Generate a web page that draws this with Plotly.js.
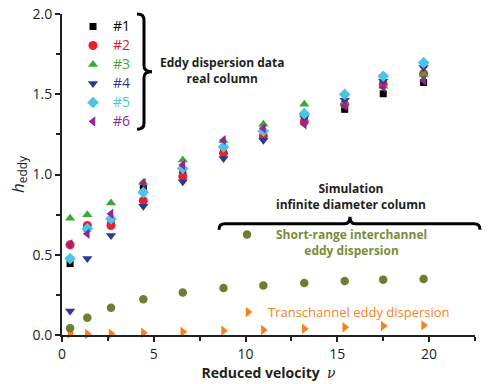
<!DOCTYPE html>
<html><head><meta charset="utf-8">
<script src="https://cdn.plot.ly/plotly-3.0.1.min.js"></script>
<style>html,body{margin:0;padding:0;background:#fff}#chart{width:500px;height:384px}</style>
</head><body><div id="chart"></div>
<script>
// Reduced velocity (x) shared by all series
const velocity = [0.44, 1.38, 2.67, 4.43, 6.58, 8.8, 10.97, 13.2, 15.4, 17.5, 19.7];
// Real column eddy dispersion data
const col1 = [0.445, 0.665, 0.71, 0.914, 1.013, 1.14, 1.247, 1.35, 1.406, 1.503, 1.573];
const col2 = [0.562, 0.682, 0.682, 0.837, 0.988, 1.133, 1.24, 1.329, 1.437, 1.561, 1.628];
const col3 = [0.727, 0.75, 0.823, 0.95, 1.09, 1.21, 1.313, 1.437, 1.45, 1.55, 1.625];
const col4 = [0.15, 0.476, 0.62, 0.802, 0.955, 1.1, 1.214, 1.354, 1.462, 1.581, 1.666];
const col5 = [0.476, 0.662, 0.724, 0.889, 1.038, 1.172, 1.271, 1.379, 1.499, 1.612, 1.697];
const col6 = [0.565, 0.631, 0.755, 0.947, 1.059, 1.214, 1.288, 1.313, 1.43, 1.544, 1.587];
// Simulation, infinite diameter column
const shortRange = [0.042, 0.107, 0.17, 0.223, 0.265, 0.293, 0.308, 0.324, 0.337, 0.345, 0.349];
const transchannel = [0.01, 0.006, 0.008, 0.014, 0.02, 0.027, 0.031, 0.039, 0.048, 0.056, 0.06];

const colNames = ['#1', '#2', '#3', '#4', '#5', '#6'];
const colData = [col1, col2, col3, col4, col5, col6];
const colColors = ['#000000', '#e8202a', '#3aaa35', '#2b3990', '#4dc3e8', '#93278f'];
const colSymbols = ['square', 'circle', 'triangle-up', 'triangle-down', 'diamond', 'triangle-left'];
const colSizes = [7, 9, 9, 9, 9, 9];
const olive = '#6b7f2e', orange = '#f5821f';
const FONT = 'Open Sans, sans-serif';

const traces = [];
traces.push({x: velocity, y: transchannel, type: 'scatter', mode: 'markers',
  name: '<span style="color:' + orange + ';font-size:13px">Transchannel eddy dispersion</span>',
  marker: {symbol: 'triangle-right', size: 9, color: orange}, cliponaxis: false, legend: 'legend3'});
traces.push({x: velocity, y: shortRange, type: 'scatter', mode: 'markers', name: ' ',
  marker: {symbol: 'circle', size: 8.5, color: olive}, cliponaxis: false, legend: 'legend2'});
colData.forEach((d, i) => traces.push({x: velocity, y: d, type: 'scatter', mode: 'markers',
  name: '<span style="color:' + colColors[i] + ';font-size:14px">' + colNames[i] + '</span>',
  marker: {symbol: colSymbols[i], size: colSizes[i], color: colColors[i]}, cliponaxis: false, legend: 'legend'}));

// pixel helpers for annotation layout (plot area l=62, t=12, w=413, h=323)
const L = 62, T = 12, W = 413, H = 323;
const px = p => (p - L) / W, py = p => (T + H - p) / H;
const P = (x, y) => px(x).toFixed(4) + ',' + py(y).toFixed(4);

const vBrace = 'M' + P(137, 12) + ' Q' + P(144, 12) + ' ' + P(144, 18) + ' L' + P(144, 64) + ' Q' + P(144, 70) + ' ' + P(152, 70) +
  ' Q' + P(144, 70) + ' ' + P(144, 76) + ' L' + P(144, 122) + ' Q' + P(144, 128) + ' ' + P(137, 128);
const hBrace = 'M' + P(219, 229) + ' Q' + P(219, 223) + ' ' + P(225, 223) + ' L' + P(345, 223) + ' Q' + P(350, 223) + ' ' + P(350, 216) +
  ' Q' + P(350, 223) + ' ' + P(355, 223) + ' L' + P(474, 223) + ' Q' + P(480, 223) + ' ' + P(480, 229);

const ann = (x, y, text, color, size) => ({xref: 'paper', yref: 'paper', x: px(x), y: py(y), xanchor: 'center', yanchor: 'middle',
  text: text, showarrow: false, font: {size: size, color: color, family: FONT}, align: 'center'});

const layout = {
  width: 500, height: 384,
  margin: {l: L, r: 500 - L - W, t: T, b: 384 - T - H},
  paper_bgcolor: '#fff', plot_bgcolor: '#fff',
  font: {family: FONT, size: 13, color: '#231f20'},
  showlegend: true,
  xaxis: {range: [0, 22.5], showgrid: false, zeroline: false, showline: true, linecolor: '#231f20', linewidth: 2,
    ticks: 'outside', ticklen: 5, tickwidth: 2, tickcolor: '#231f20', tickvals: [0, 5, 10, 15, 20],
    minor: {ticks: 'outside', tickvals: [2.5, 7.5, 12.5, 17.5, 22.5], ticklen: 4, tickwidth: 2, tickcolor: '#231f20'},
    tickfont: {size: 14, family: FONT},
    title: {text: '<b>Reduced velocity</b>  <span style="font-family:DejaVu Serif"><i>ν</i></span>', font: {size: 14, family: FONT}, standoff: 2}},
  yaxis: {range: [0, 2.0], showgrid: false, zeroline: false, showline: true, linecolor: '#231f20', linewidth: 2,
    ticks: 'outside', ticklen: 5, tickwidth: 2, tickcolor: '#231f20', tickvals: [0, 0.5, 1, 1.5, 2], ticktext: ['0.0', '0.5', '1.0', '1.5', '2.0'],
    minor: {ticks: 'outside', tickvals: [0.25, 0.75, 1.25, 1.75], ticklen: 4, tickwidth: 2, tickcolor: '#231f20'},
    tickfont: {size: 14, family: FONT},
    title: {text: '<i>h</i><sub>eddy</sub>', font: {size: 17, family: FONT}, standoff: 4}},
  legend: {x: px(73), y: py(10), xanchor: 'left', yanchor: 'top', bgcolor: 'rgba(0,0,0,0)', font: {size: 12, family: FONT}, traceorder: 'normal', tracegroupgap: 0},
  legend2: {x: px(227), y: py(234), xanchor: 'left', yanchor: 'middle', bgcolor: 'rgba(0,0,0,0)', font: {size: 13, family: FONT}},
  legend3: {x: px(228), y: py(312), xanchor: 'left', yanchor: 'middle', bgcolor: 'rgba(0,0,0,0)', font: {size: 13, family: FONT}},
  shapes: [
    {type: 'path', xref: 'paper', yref: 'paper', path: vBrace, line: {color: '#000', width: 3}},
    {type: 'path', xref: 'paper', yref: 'paper', path: hBrace, line: {color: '#000', width: 3}}
  ],
  annotations: [
    ann(222, 69, '<b>Eddy dispersion data<br>real column</b>', '#231f20', 12),
    ann(351, 196, '<b>Simulation<br>infinite diameter column</b>', '#231f20', 12),
    ann(351, 242, '<b>Short-range interchannel<br>eddy dispersion</b>', '#7a8c3a', 12)
  ]
};
Plotly.newPlot('chart', traces, layout, {displayModeBar: false, staticPlot: true});
</script></body></html>
